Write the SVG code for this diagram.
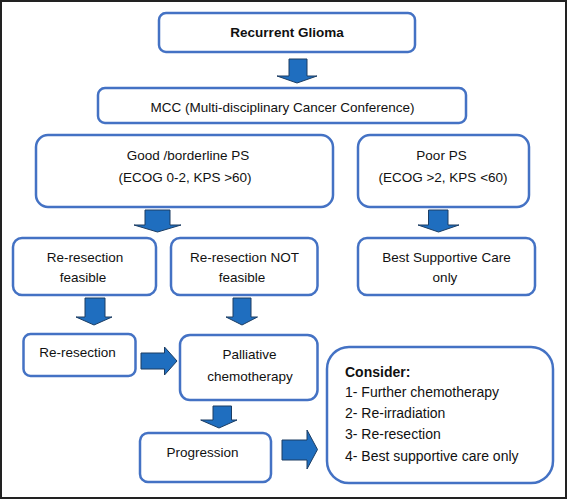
<svg xmlns="http://www.w3.org/2000/svg" width="567" height="499" viewBox="0 0 567 499">
<style>
.box{fill:#fff;stroke:#4472C4;stroke-width:2.5}
.arr{fill:#1F6EBF;stroke:#1C3D63;stroke-width:1;stroke-linejoin:miter}
text{font-family:"Liberation Sans",Arial,sans-serif;font-size:13.5px;fill:#111}
.c{text-anchor:middle}
.b{font-weight:bold}
.l{font-size:14px}
</style>
<rect x="1" y="1" width="565" height="497" fill="#fff" stroke="#222" stroke-width="2"/>
<g id="connectors">
<path class="arr" d="M289,59 H307 V76 H317 L297,83 L277,76 H289 Z"/>
<path class="arr" d="M145,210 H170 V225 H181 L157.5,232 L134,225 H145 Z"/>
<path class="arr" d="M428.5,210 H448 V225 H459 L438.5,232 L418,225 H428.5 Z"/>
<path class="arr" d="M85,298 H105 V317 H112 L94,325 L76,317 H85 Z"/>
<path class="arr" d="M233,298 H251 V317 H257.5 L242,325 L226,317 H233 Z"/>
<path class="arr" d="M141,353 H164.5 V347 L177,361 L164.5,375 V369 H141 Z"/>
<path class="arr" d="M213,406 H231.5 V420 H237 L219,428 L200.7,420 H213 Z"/>
<path class="arr" d="M282,440 H307 V430 L317.5,449.5 L307,469 V460 H282 Z"/>
</g>
<g id="recurrent">
<rect class="box" x="159" y="13" width="256" height="39" rx="7"/>
<text class="c b" x="287" y="36.5">Recurrent Glioma</text>
</g>
<g id="mcc">
<rect class="box" x="98" y="88" width="368" height="35" rx="7"/>
<text class="c" x="282.5" y="112">MCC (Multi-disciplinary Cancer Conference)</text>
</g>
<g id="good">
<rect class="box" x="36" y="135" width="297" height="72" rx="12"/>
<text class="c" x="188" y="160">Good /borderline PS</text>
<text class="c" x="185" y="182">(ECOG 0-2, KPS &gt;60)</text>
</g>
<g id="poor">
<rect class="box" x="358" y="135" width="171" height="72" rx="12"/>
<text class="c" x="441.5" y="160">Poor PS</text>
<text class="c" x="443" y="182">(ECOG &gt;2, KPS &lt;60)</text>
</g>
<g id="feasible">
<rect class="box" x="13" y="238" width="143" height="57" rx="9"/>
<text class="c" x="85" y="262">Re-resection</text>
<text class="c" x="83" y="282">feasible</text>
</g>
<g id="notfeasible">
<rect class="box" x="171" y="238" width="146.5" height="57" rx="9"/>
<text class="c" x="244.5" y="262">Re-resection NOT</text>
<text class="c" x="242" y="282">feasible</text>
</g>
<g id="bsc">
<rect class="box" x="358" y="238" width="177" height="57" rx="9"/>
<text class="c" x="446.5" y="262">Best Supportive Care</text>
<text class="c" x="445" y="282">only</text>
</g>
<g id="reresection">
<rect class="box" x="23.5" y="334" width="112" height="42" rx="7"/>
<text class="c" x="77.5" y="357">Re-resection</text>
</g>
<g id="palliative">
<rect class="box" x="180" y="335" width="137.5" height="65" rx="10"/>
<text class="c" x="249.5" y="359">Palliative</text>
<text class="c" x="250" y="381">chemotherapy</text>
</g>
<g id="progression">
<rect class="box" x="140" y="433" width="131" height="49" rx="8"/>
<text class="c" x="202.5" y="457">Progression</text>
</g>
<g id="consider">
<rect class="box" x="327" y="347" width="226" height="136" rx="22"/>
<text class="l b" x="345" y="377">Consider:</text>
<text class="l" x="345" y="397">1- Further chemotherapy</text>
<text class="l" x="345" y="418">2- Re-irradiation</text>
<text class="l" x="345" y="439">3- Re-resection</text>
<text class="l" x="345" y="461">4- Best supportive care only</text>
</g>
</svg>
